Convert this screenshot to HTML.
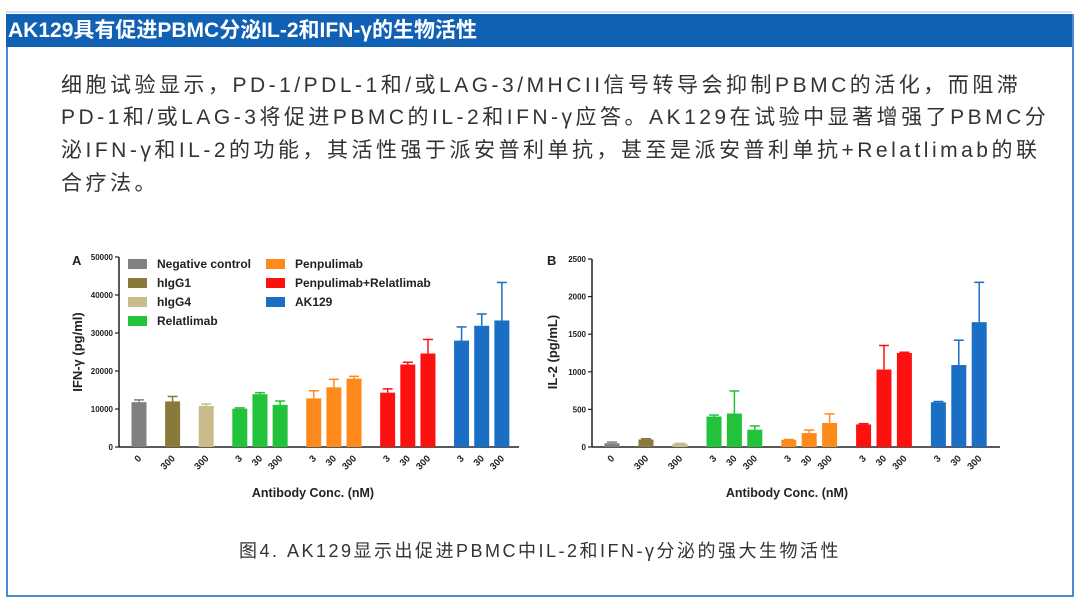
<!DOCTYPE html>
<html><head><meta charset="utf-8"><style>
body{margin:0;width:1080px;height:606px;background:#fff;position:relative;overflow:hidden;font-family:"Liberation Sans","Noto Sans CJK SC",sans-serif}
#box{position:absolute;left:6px;top:14px;width:1064px;height:581px;border:2px solid #4a8ad0;border-top:none}
#hdr{position:absolute;left:6px;top:14px;width:1066px;height:33px;background:#1060b4;color:#fff;font-weight:bold;font-size:21px;line-height:33px;padding-left:2px;box-sizing:border-box}
#topline{position:absolute;left:6px;top:11px;width:1066px;height:2px;background:#cfe0f2}
.p{position:absolute;left:61px;font-size:21px;color:#333;letter-spacing:3.5px;white-space:nowrap}
#cap{position:absolute;left:0;width:1080px;text-align:center;top:537px;font-size:18px;color:#333;letter-spacing:2.5px}
svg{position:absolute;left:0;top:0}
svg text{font-family:"Liberation Sans",sans-serif;font-weight:bold;fill:#222}
</style></head><body>
<div id="topline"></div>
<div id="box"></div>
<div id="hdr">AK129具有促进PBMC分泌IL-2和IFN-γ的生物活性</div>
<div class="p" style="top:69px">细胞试验显示，PD-1/PDL-1和/或LAG-3/MHCII信号转导会抑制PBMC的活化，而阻滞</div>
<div class="p" style="top:101px">PD-1和/或LAG-3将促进PBMC的IL-2和IFN-γ应答。AK129在试验中显著增强了PBMC分</div>
<div class="p" style="top:134px">泌IFN-γ和IL-2的功能，其活性强于派安普利单抗，甚至是派安普利单抗+Relatlimab的联</div>
<div class="p" style="top:167px">合疗法。</div>
<div id="cap">图4. AK129显示出促进PBMC中IL-2和IFN-γ分泌的强大生物活性</div>
<svg id="chart" width="1080" height="606"></svg>
<script>
const colors=["#808080","#8a7a3a","#c8bd8a","#22c23a","#22c23a","#22c23a","#ff8a1c","#ff8a1c","#ff8a1c","#ff1010","#ff1010","#ff1010","#1a6fc4","#1a6fc4","#1a6fc4"];
const xLabels=["0","300","300","3","30","300","3","30","300","3","30","300","3","30","300"];
const ifnValues=[11800,12000,10800,10100,13900,11100,12800,15700,18000,14300,21700,24600,28000,31900,33300];
const ifnErrors=[600,1300,500,200,400,1000,2000,2100,600,1000,600,3700,3600,3100,10000];
const ifnTicks=[0,10000,20000,30000,40000,50000];
const il2Values=[50,100,45,405,445,230,95,185,320,300,1030,1250,595,1090,1660];
const il2Errors=[15,10,5,20,300,50,5,40,120,10,320,10,10,330,530];
const il2Ticks=[0,500,1000,1500,2000,2500];
const legendNames=["Negative control","hIgG1","hIgG4","Relatlimab","Penpulimab","Penpulimab+Relatlimab","AK129"];
const legendColors=["#808080","#8a7a3a","#c8bd8a","#22c23a","#ff8a1c","#ff1010","#1a6fc4"];
const svg=document.getElementById('chart');
const NS='http://www.w3.org/2000/svg';
function mk(tag,attrs,parent){const e=document.createElementNS(NS,tag);for(const k in attrs)e.setAttribute(k,attrs[k]);(parent||svg).appendChild(e);return e;}
function panel(cfg){
  const g=mk('g',{});
  
  
  const y=v=>cfg.y0-(v/cfg.max)*(cfg.y0-cfg.yTop);
  const x=i=>cfg.xStart+cfg.groupPos[i]*cfg.step;
  const ax=mk('line',{x1:cfg.ax,y1:cfg.yTop,x2:cfg.ax,y2:cfg.y0,stroke:'#222','stroke-width':1.5},g);
  
  
  const xa=mk('line',{x1:cfg.ax,y1:cfg.y0,x2:cfg.xEnd,y2:cfg.y0,stroke:'#222','stroke-width':1.5},g);
  
  
  cfg.ticks.forEach(t=>{
    mk('line',{x1:cfg.ax-4,y1:y(t),x2:cfg.ax,y2:y(t),stroke:'#222','stroke-width':1.2},g);
    const tx=mk('text',{x:cfg.ax-6,y:y(t)+3,'text-anchor':'end','font-size':8},g);
    
    
    tx.textContent=t;
  });
  cfg.values.forEach((v,i)=>{
    const cx=x(i),w=15,c=colors[i];
    const top=y(v+cfg.errors[i]);
    const el=mk('line',{x1:cx,y1:y(v),x2:cx,y2:top,stroke:c,'stroke-width':1.5},g);
    
    
    mk('line',{x1:cx-5,y1:top,x2:cx+5,y2:top,stroke:c,'stroke-width':1.5},g);
    const r=mk('rect',{x:cx-w/2,y:y(v),width:w,height:cfg.y0-y(v),fill:c},g);
    
    
    const lx=cx+3,ly=cfg.y0+12;
    const t=mk('text',{x:lx,y:ly,'text-anchor':'end','font-size':9.5,transform:`rotate(-45 ${lx} ${ly})`},g);
    
    
    t.textContent=xLabels[i];
  });
  const xt=mk('text',{x:cfg.xTitle,y:497,'text-anchor':'middle','font-size':12.5},g);
  
  
  xt.textContent='Antibody Conc. (nM)';
  const yx=cfg.yTitleX,yy=352;
  const yt=mk('text',{x:yx,y:yy,'text-anchor':'middle','font-size':13,transform:`rotate(-90 ${yx} ${yy})`},g);
  
  
  yt.textContent=cfg.yTitle;
  const pl=mk('text',{x:cfg.letterX,y:265,'font-size':13},g);
  
  
  pl.textContent=cfg.letter;
}
const groupPos=[0,1,2,3,3.6,4.2,5.2,5.8,6.4,7.4,8,8.6,9.6,10.2,10.8];
panel({name:'ifn-gamma-chart',values:ifnValues,errors:ifnErrors,ticks:ifnTicks,max:50000,ax:119,xEnd:519,y0:447,yTop:257,xStart:139,step:33.6,groupPos:groupPos,xTitle:313,yTitleX:82,yTitle:'IFN-γ (pg/ml)',letter:'A',letterX:72});
panel({name:'il-2-chart',values:il2Values,errors:il2Errors,ticks:il2Ticks,max:2500,ax:592,xEnd:1000,y0:447,yTop:259,xStart:612,step:34,groupPos:groupPos,xTitle:787,yTitleX:557,yTitle:'IL-2 (pg/mL)',letter:'B',letterX:547});
const legPos=[[128,264],[128,283],[128,302],[128,321],[266,264],[266,283],[266,302]];
legendNames.forEach((n,i)=>{
  const [lx,ly]=legPos[i];
  const s=mk('rect',{x:lx,y:ly-5,width:19,height:10,fill:legendColors[i]});
  
  
  const t=mk('text',{x:lx+29,y:ly+4,'font-size':12});
  
  
  t.textContent=n;
});
</script>
</body></html>
